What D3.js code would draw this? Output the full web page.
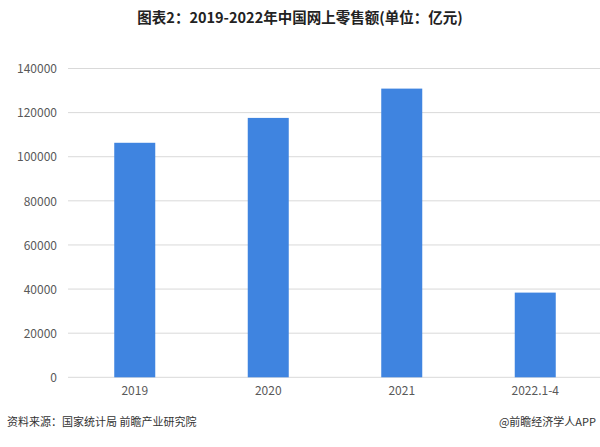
<!DOCTYPE html>
<html><head><meta charset="utf-8">
<script src="https://cdn.jsdelivr.net/npm/d3@7"></script>
<style>body{margin:0;background:#fff;}svg{display:block;}</style>
</head><body>
<svg id="c" width="600" height="447"></svg>
<script>
const categories = ["2019", "2020", "2021", "2022.1-4"];
const values = [106324, 117601, 130884, 38398];
const yTicks = [0, 20000, 40000, 60000, 80000, 100000, 120000, 140000];
const titleText = "图表2：2019-2022年中国网上零售额(单位：亿元)";
const sourceText = "资料来源：国家统计局 前瞻产业研究院";
const creditText = "@前瞻经济学人APP";

const svg = d3.select("#c");
const font = "'Noto Sans CJK SC', 'Noto Sans', sans-serif";
const x = d3.scaleBand().domain(categories).range([68, 602]);
const y = d3.scaleLinear().domain([0, 140000]).range([377.3, 68.5]);

// gridlines
svg.append("g").selectAll("line").data(yTicks).join("line")
  .attr("x1", 68).attr("x2", 600)
  .attr("y1", d => y(d)).attr("y2", d => y(d))
  .attr("stroke", "#d9d9d9").attr("stroke-width", 1);

// y axis labels
const yAxis = d3.axisLeft(y).tickValues(yTicks).tickSize(0).tickPadding(0).tickFormat(d3.format("d"));
const ya = svg.append("g").attr("transform", "translate(57,0)").call(yAxis);
ya.select(".domain").remove();
ya.selectAll("text").attr("fill", "#595959").attr("font-size", 12).attr("font-family", font).attr("dy", "0.35em");

// x axis labels
const xAxis = d3.axisBottom(x).tickSize(0).tickPadding(0);
const xa = svg.append("g").attr("transform", "translate(0,386)").call(xAxis);
xa.select(".domain").remove();
xa.selectAll("text").attr("fill", "#595959").attr("font-size", 12).attr("font-family", font).attr("dy", "0.71em");

// bars
const bw = 41;
svg.append("g").selectAll("rect").data(values).join("rect")
  .attr("x", (d, i) => x(categories[i]) + x.bandwidth() / 2 - bw / 2)
  .attr("width", bw)
  .attr("y", d => y(d))
  .attr("height", d => y(0) - y(d))
  .attr("fill", "#3f84e0");

// title
svg.append("text").attr("x", 300).attr("y", 23).attr("text-anchor", "middle")
  .attr("font-family", font).attr("font-weight", "bold").attr("font-size", 14.5)
  .attr("fill", "#222").text(titleText);

// footer
svg.append("text").attr("x", 7).attr("y", 426).attr("font-family", font)
  .attr("font-size", 11).attr("fill", "#333").text(sourceText);
svg.append("text").attr("x", 596).attr("y", 426).attr("text-anchor", "end").attr("font-family", font)
  .attr("font-size", 11).attr("fill", "#333").text(creditText);
</script>
</body></html>
